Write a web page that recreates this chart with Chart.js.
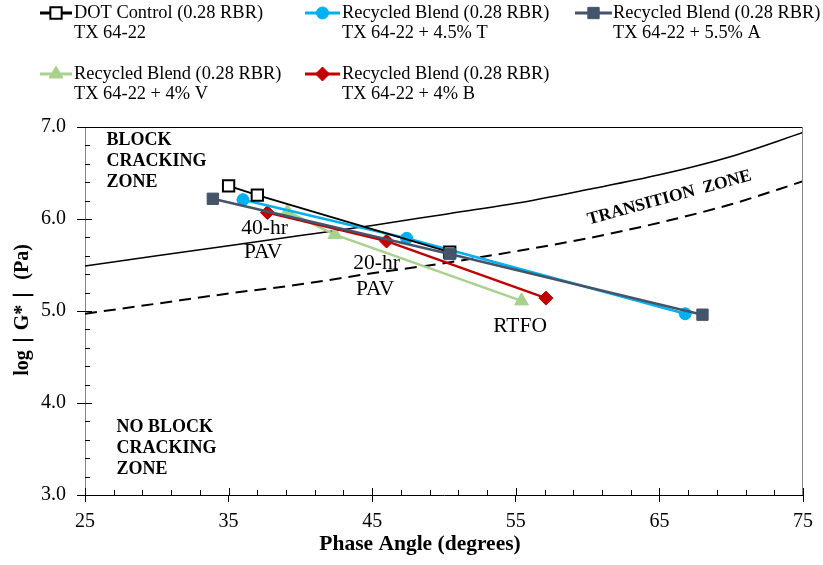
<!DOCTYPE html>
<html>
<head>
<meta charset="utf-8">
<script src="https://cdn.jsdelivr.net/npm/chart.js@4"></script>
<style>
  html, body { margin: 0; padding: 0; background: #fff; }
  #wrap { width: 823px; height: 565px; }
</style>
</head>
<body>
<div id="wrap"><canvas id="gChart" width="823" height="565"></canvas></div>
<script>
// phase angle (deg) and log|G*| (Pa)
const phaseDot = [35.0, 37.0, 50.4];
const logGDot = [6.36, 6.26, 5.64];
const phaseT = [36.0, 47.4, 66.8];
const logGT = [6.21, 5.79, 4.97];
const phaseA = [33.9, 50.4, 68.0];
const logGA = [6.22, 5.62, 4.96];
const phaseV = [39.1, 42.4, 55.4];
const logGV = [6.08, 5.83, 5.11];
const phaseB = [37.7, 46.0, 57.1];
const logGB = [6.07, 5.76, 5.14];

// zone boundaries
const curvePhase = [25, 30, 35, 40, 45, 50, 55, 60, 65, 70, 75];
const upperCurve = [5.49, 5.60, 5.71, 5.82, 5.93, 6.05, 6.17, 6.32, 6.48, 6.68, 6.94];
const lowerCurve = [4.97, 5.08, 5.19, 5.29, 5.41, 5.52, 5.65, 5.79, 5.96, 6.16, 6.41];

const xTicks = [25, 35, 45, 55, 65, 75];
const yTicks = [3.0, 4.0, 5.0, 6.0, 7.0];

const seriesNames = [
  ["DOT Control (0.28 RBR)", "TX 64-22"],
  ["Recycled Blend (0.28 RBR)", "TX 64-22 + 4.5% T"],
  ["Recycled Blend (0.28 RBR)", "TX 64-22 + 5.5% A"],
  ["Recycled Blend (0.28 RBR)", "TX 64-22 + 4% V"],
  ["Recycled Blend (0.28 RBR)", "TX 64-22 + 4% B"],
];

const SERIF = "'Liberation Serif', 'Times New Roman', serif";

function toPoints(xs, ys) {
  return xs.map((x, i) => ({ x: x, y: ys[i] }));
}

function series(name, xs, ys, color, style, radius, extra) {
  return Object.assign({
    label: name.join(" "),
    legendText: name,
    data: toPoints(xs, ys),
    showLine: true,
    borderColor: color,
    backgroundColor: color,
    pointBackgroundColor: color,
    pointBorderColor: color,
    borderWidth: 2.5,
    pointStyle: style,
    pointRadius: radius,
    pointBorderWidth: 1,
  }, extra || {});
}

const datasets = [
  series(seriesNames[0], phaseDot, logGDot, "#000000", "rect", 8,
    { borderWidth: 2, pointBackgroundColor: "#ffffff", pointBorderWidth: 2, order: 2 }),
  series(seriesNames[1], phaseT, logGT, "#00B0F0", "circle", 6, { order: 3 }),
  series(seriesNames[2], phaseA, logGA, "#44546A", "rect", 8, { order: 1 }),
  series(seriesNames[3], phaseV, logGV, "#A9D18E", "triangle", 8, { order: 5 }),
  series(seriesNames[4], phaseB, logGB, "#C00000", "rectRot", 7, { order: 4 }),
  {
    label: "upper",
    data: toPoints(curvePhase, upperCurve),
    showLine: true,
    borderColor: "#000",
    borderWidth: 1.5,
    pointRadius: 0,
    cubicInterpolationMode: "monotone",
    order: 10,
  },
  {
    label: "lower",
    data: toPoints(curvePhase, lowerCurve),
    showLine: true,
    borderColor: "#000",
    borderWidth: 2,
    borderDash: [12, 7],
    pointRadius: 0,
    cubicInterpolationMode: "monotone",
    order: 10,
  },
];

// legend spots: [line start, line end, line y, text x]
const legendSpots = [
  [40, 72, 13, 74],
  [305, 340, 13, 342],
  [575, 612, 13, 613],
  [40, 72, 74, 74],
  [305, 340, 74, 342],
];

const decorPlugin = {
  id: "decor",
  afterDraw(chart) {
    const ctx = chart.ctx;
    const area = chart.chartArea;
    const xs = chart.scales.x;
    const ys = chart.scales.y;
    ctx.save();

    // top / right frame
    ctx.lineWidth = 1;
    ctx.strokeStyle = "#000";
    ctx.beginPath();
    ctx.moveTo(area.left, area.top + 0.5);
    ctx.lineTo(area.right, area.top + 0.5);
    ctx.stroke();
    ctx.strokeStyle = "#868686";
    ctx.beginPath();
    ctx.moveTo(area.right - 0.5, area.top);
    ctx.lineTo(area.right - 0.5, area.bottom);
    ctx.stroke();

    // inside tick marks
    ctx.strokeStyle = "#000";
    for (let i = 0; i <= 25; i++) {
      const px = Math.round(xs.getPixelForValue(25 + i * 2)) + 0.5;
      const len = i % 5 === 0 ? 7 : 5;
      ctx.beginPath();
      ctx.moveTo(px, area.bottom);
      ctx.lineTo(px, area.bottom - len);
      ctx.stroke();
    }
    for (let i = 0; i <= 20; i++) {
      const py = Math.round(ys.getPixelForValue(3 + i * 0.2)) + 0.5;
      const len = i % 5 === 0 ? 7 : 5;
      ctx.beginPath();
      ctx.moveTo(area.left, py);
      ctx.lineTo(area.left + len, py);
      ctx.stroke();
    }

    // zone labels
    ctx.fillStyle = "#000";
    ctx.textBaseline = "middle";
    ctx.font = "bold 18px " + SERIF;
    ctx.textAlign = "left";
    const bx = xs.getPixelForValue(26.5);
    ["BLOCK", "CRACKING", "ZONE"].forEach((t, i) => {
      ctx.fillText(t, bx, ys.getPixelForValue(6.86) + i * 21);
    });
    const nx = xs.getPixelForValue(27.2);
    ["NO BLOCK", "CRACKING", "ZONE"].forEach((t, i) => {
      ctx.fillText(t, nx, ys.getPixelForValue(3.74) + i * 21);
    });

    ctx.save();
    ctx.font = "bold 17.5px " + SERIF;
    ctx.translate(xs.getPixelForValue(65.7), ys.getPixelForValue(6.23));
    ctx.rotate(-15.3 * Math.PI / 180);
    ctx.textAlign = "center";
    ctx.fillText("TRANSITION  ZONE", 0, 0);
    ctx.restore();

    // aging labels
    ctx.font = "21.5px " + SERIF;
    ctx.textAlign = "center";
    ctx.fillText("40-hr", xs.getPixelForValue(37.5), ys.getPixelForValue(5.90));
    ctx.fillText("PAV", xs.getPixelForValue(37.4), ys.getPixelForValue(5.64));
    ctx.fillText("20-hr", xs.getPixelForValue(45.3), ys.getPixelForValue(5.52));
    ctx.fillText("PAV", xs.getPixelForValue(45.2), ys.getPixelForValue(5.23));
    ctx.fillText("RTFO", xs.getPixelForValue(55.3), ys.getPixelForValue(4.83));

    // axis titles
    ctx.font = "bold 21.5px " + SERIF;
    ctx.fillText("Phase Angle (degrees)", 420, 544);
    ctx.save();
    ctx.font = "bold 20px " + SERIF;
    ctx.translate(23, 310);
    ctx.rotate(-Math.PI / 2);
    ctx.fillText("log\uFF5CG*\uFF5C (Pa)", 0, 0);
    ctx.restore();

    // legend
    ctx.textAlign = "left";
    ctx.font = "18.4px " + SERIF;
    legendSpots.forEach((spot, i) => {
      const ds = chart.data.datasets[i];
      ctx.strokeStyle = ds.borderColor;
      ctx.lineWidth = 3;
      ctx.beginPath();
      ctx.moveTo(spot[0], spot[2]);
      ctx.lineTo(spot[1], spot[2]);
      ctx.stroke();
      ctx.fillStyle = ds.pointBackgroundColor;
      ctx.strokeStyle = ds.pointBorderColor;
      ctx.lineWidth = ds.pointBorderWidth;
      Chart.helpers.drawPoint(ctx, {
        pointStyle: ds.pointStyle,
        radius: ds.pointRadius,
        rotation: 0,
        borderWidth: ds.pointBorderWidth,
      }, (spot[0] + spot[1]) / 2, spot[2]);
      ctx.fillStyle = "#000";
      ctx.fillText(ds.legendText[0], spot[3], spot[2]);
      ctx.fillText(ds.legendText[1], spot[3], spot[2] + 20);
    });

    ctx.restore();
  },
};

const ctx = document.getElementById("gChart").getContext("2d");
new Chart(ctx, {
  type: "scatter",
  data: { datasets },
  options: {
    responsive: false,
    animation: false,
    layout: { padding: { top: 127, right: 20, left: 0, bottom: 0 } },
    font: { family: SERIF, size: 20 },
    plugins: {
      legend: { display: false },
      tooltip: { enabled: false },
    },
    scales: {
      x: {
        type: "linear",
        min: 25,
        max: 75,
        afterBuildTicks: (scale) => {
          scale.ticks = xTicks.map((v) => ({ value: v }));
        },
        afterFit: (scale) => {
          scale.height = 70;
        },
        ticks: {
          color: "#000",
          padding: 8,
          font: { family: SERIF, size: 20 },
        },
        grid: {
          drawOnChartArea: false,
          drawTicks: true,
          tickLength: 7,
          color: "#000",
        },
        border: { display: true, color: "#000", width: 1 },
      },
      y: {
        type: "linear",
        min: 3,
        max: 7,
        afterBuildTicks: (scale) => {
          scale.ticks = yTicks.map((v) => ({ value: v }));
        },
        afterFit: (scale) => {
          scale.width = 85;
        },
        ticks: {
          color: "#000",
          padding: 11,
          font: { family: SERIF, size: 20 },
          callback: (v) => Number(v).toFixed(1),
        },
        grid: {
          drawOnChartArea: false,
          drawTicks: true,
          tickLength: 8,
          color: "#000",
        },
        border: { display: true, color: "#868686", width: 1 },
      },
    },
  },
  plugins: [decorPlugin],
});
</script>
</body>
</html>
